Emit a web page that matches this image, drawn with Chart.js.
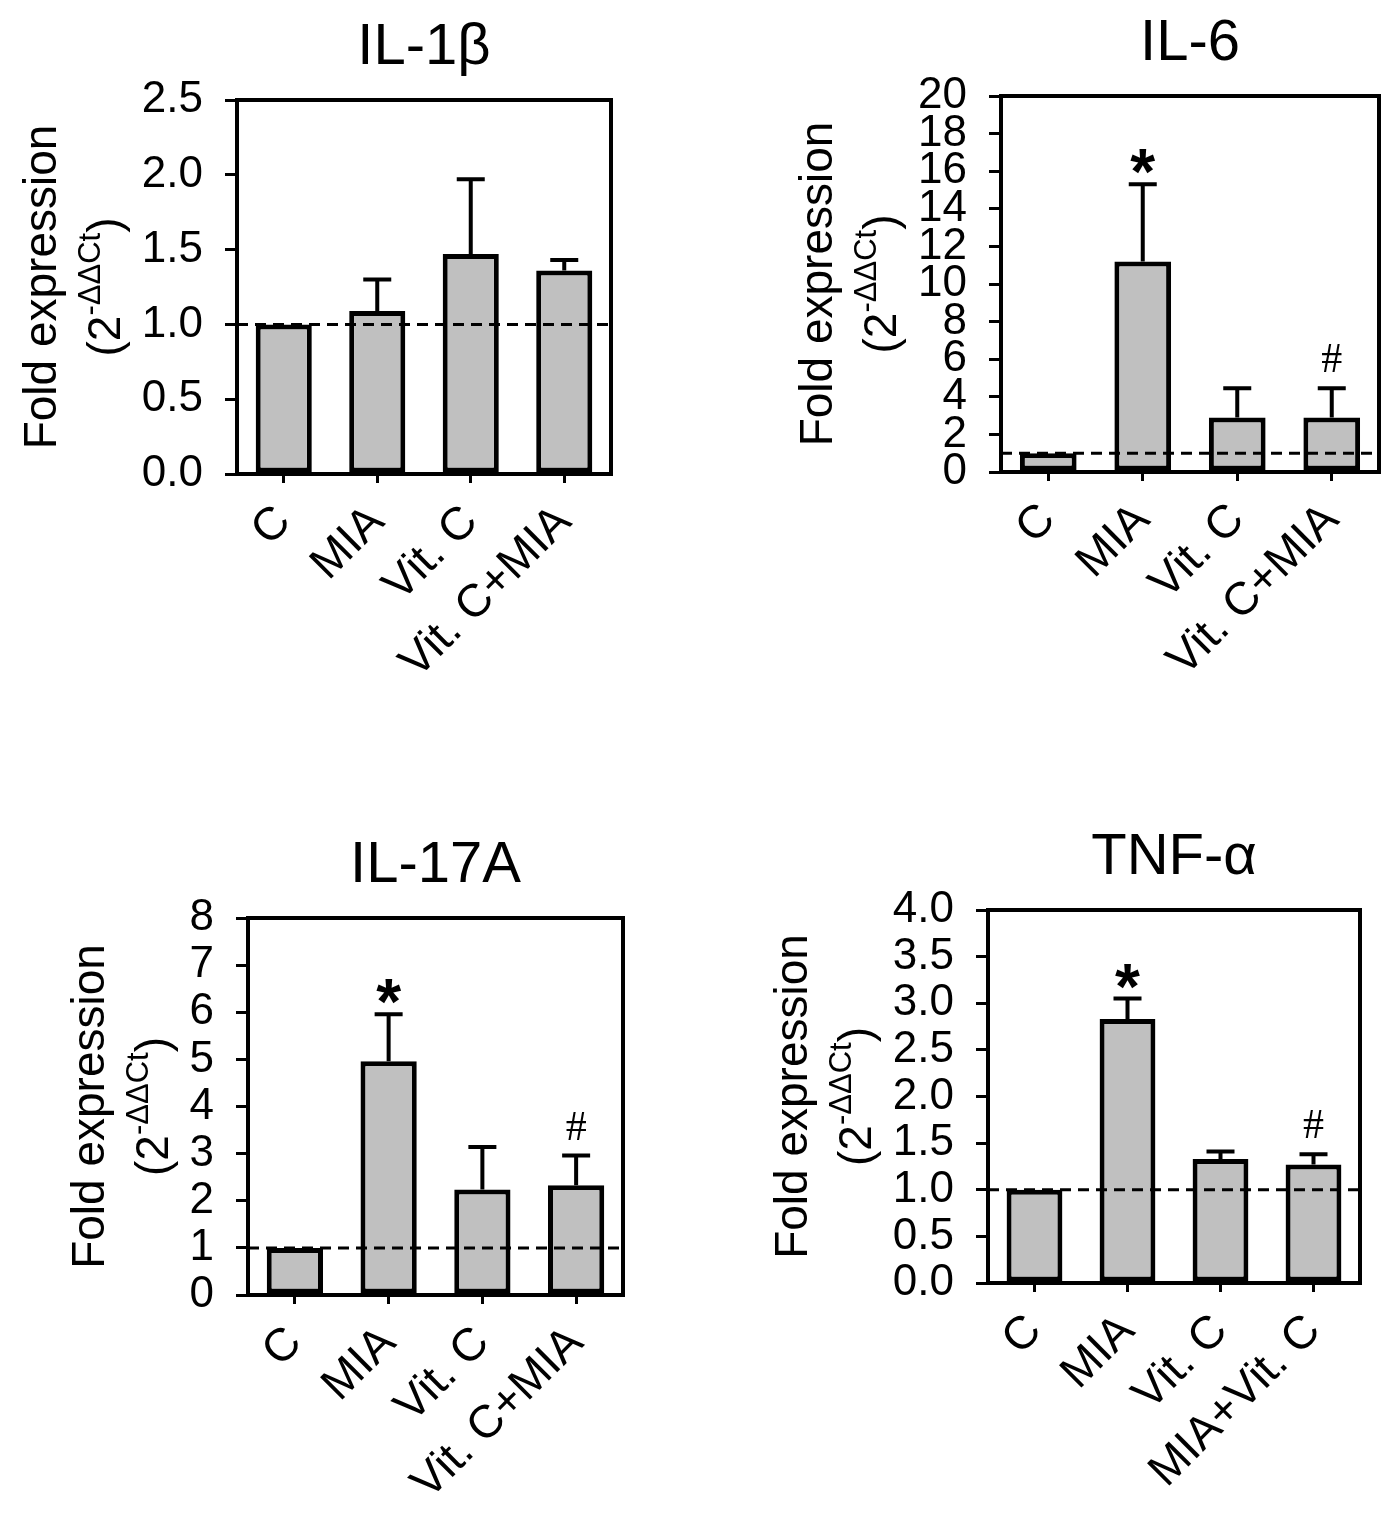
<!DOCTYPE html>
<html>
<head>
<meta charset="utf-8">
<title>Fold expression of cytokines</title>
<script src="https://cdn.jsdelivr.net/npm/chart.js@4.4.1/dist/chart.umd.min.js"></script>
<style>
  html, body { margin: 0; padding: 0; background: #fff; }
  #page { position: relative; width: 1395px; height: 1513px; overflow: hidden; }
  #page canvas { position: absolute; }
</style>
</head>
<body>
<div id="page">
  <canvas id="il1b"></canvas>
  <canvas id="il6"></canvas>
  <canvas id="il17a"></canvas>
  <canvas id="tnfa"></canvas>
</div>
<script>
// groups on the x axis
const groups = ['C', 'MIA', 'Vit. C', 'Vit. C+MIA'];
const groupsTnf = ['C', 'MIA', 'Vit. C', 'MIA+Vit. C'];

// IL-1β
const il1bMean = [1.0, 1.09, 1.47, 1.36];
const il1bSem = [0, 0.21, 0.50, 0.07];
const il1bMarks = ['', '', '', ''];
const il1bTicks = [0.0, 0.5, 1.0, 1.5, 2.0, 2.5];

// IL-6
const il6Mean = [1.0, 11.2, 2.9, 2.9];
const il6Sem = [0, 4.1, 1.55, 1.55];
const il6Marks = ['', '*', '', '#'];
const il6Ticks = [0, 2, 4, 6, 8, 10, 12, 14, 16, 18, 20];

// IL-17A
const il17aMean = [1.0, 4.96, 2.24, 2.33];
const il17aSem = [0, 1.0, 0.9, 0.63];
const il17aMarks = ['', '*', '', '#'];
const il17aTicks = [0, 1, 2, 3, 4, 5, 6, 7, 8];

// TNF-α
const tnfaMean = [1.0, 2.83, 1.33, 1.27];
const tnfaSem = [0, 0.22, 0.08, 0.11];
const tnfaMarks = ['', '*', '', '#'];
const tnfaTicks = [0.0, 0.5, 1.0, 1.5, 2.0, 2.5, 3.0, 3.5, 4.0];

const baseline = 1; // dashed reference line (control = 1)

const FONT = "'Liberation Sans', Arial, sans-serif";

// desenha barras de erro, linha tracejada, moldura e marcas
const panelDecor = {
  id: 'panelDecor',
  afterDatasetsDraw(chart, args, opts) {
    const { ctx, chartArea: a } = chart;
    const y = chart.scales.y;
    const meta = chart.getDatasetMeta(0);
    const values = chart.data.datasets[0].data;

    ctx.save();
    ctx.strokeStyle = '#000';
    ctx.fillStyle = '#000';

    // barras de erro (só para cima)
    ctx.lineWidth = 4;
    meta.data.forEach((bar, i) => {
      const sem = opts.sem[i];
      if (!sem) return;
      const top = y.getPixelForValue(values[i] + sem);
      ctx.beginPath();
      ctx.moveTo(bar.x, bar.y);
      ctx.lineTo(bar.x, top);
      ctx.moveTo(bar.x - 14, top);
      ctx.lineTo(bar.x + 14, top);
      ctx.stroke();
    });

    // linha tracejada em 1
    const yb = y.getPixelForValue(baseline);
    ctx.lineWidth = 3;
    ctx.setLineDash([11, 7]);
    ctx.beginPath();
    ctx.moveTo(a.left, yb);
    ctx.lineTo(a.right, yb);
    ctx.stroke();
    ctx.setLineDash([]);

    // moldura
    ctx.lineWidth = 4;
    ctx.strokeRect(a.left, a.top, a.right - a.left, a.bottom - a.top);

    // marcas de significância
    ctx.textAlign = 'center';
    ctx.textBaseline = 'alphabetic';
    meta.data.forEach((bar, i) => {
      const mark = opts.marks[i];
      if (!mark) return;
      const top = y.getPixelForValue(values[i] + opts.sem[i]);
      if (mark === '*') {
        ctx.font = 'bold 64px ' + FONT;
        ctx.fillText(mark, bar.x, top + 10);
      } else {
        ctx.font = "42px 'Liberation Serif', 'Times New Roman', serif";
        ctx.fillText(mark, bar.x, top - 16);
      }
    });
    ctx.restore();
  },
  afterDraw(chart, args, opts) {
    const { ctx, chartArea: a } = chart;
    const y = chart.scales.y;
    ctx.save();
    ctx.fillStyle = '#000';

    // título
    ctx.font = '58px ' + FONT;
    ctx.textAlign = 'center';
    ctx.textBaseline = 'alphabetic';
    ctx.fillText(opts.title, (a.left + a.right) / 2, a.top - 36);

    // título do eixo Y, duas linhas, girado
    ctx.font = '44px ' + FONT;
    let labelW = 0;
    y.ticks.forEach(t => {
      labelW = Math.max(labelW, ctx.measureText(opts.fmt(t.value)).width);
    });
    const line2 = a.left - 12 - 22 - labelW - 22;
    const line1 = line2 - 64;
    const cy = (a.top + a.bottom) / 2;

    ctx.save();
    ctx.translate(line1, cy);
    ctx.rotate(-Math.PI / 2);
    ctx.font = '46px ' + FONT;
    ctx.fillText('Fold expression', 0, 0);
    ctx.restore();

    ctx.save();
    ctx.translate(line2, cy);
    ctx.rotate(-Math.PI / 2);
    ctx.textAlign = 'left';
    const big = '46px ' + FONT, small = '31px ' + FONT;
    ctx.font = big;
    const w1 = ctx.measureText('(2').width;
    const w3 = ctx.measureText(')').width;
    ctx.font = small;
    const w2 = ctx.measureText('-\u0394\u0394Ct').width;
    const x0 = -(w1 + w2 + w3) / 2;
    ctx.font = big;
    ctx.fillText('(2', x0, 0);
    ctx.font = small;
    ctx.fillText('-\u0394\u0394Ct', x0 + w1, -20);
    ctx.font = big;
    ctx.fillText(')', x0 + w1 + w2, 0);
    ctx.restore();

    ctx.restore();
  }
};

function makePanel(id, pos, plot, labels, mean, sem, marks, ticks, decimals, title) {
  const canvas = document.getElementById(id);
  const W = 698, H = 757;
  canvas.width = W;
  canvas.height = H;
  canvas.style.width = W + 'px';
  canvas.style.height = H + 'px';
  canvas.style.left = pos[0] + 'px';
  canvas.style.top = pos[1] + 'px';

  const fmt = v => Number(v).toFixed(decimals);

  return new Chart(canvas, {
    type: 'bar',
    data: {
      labels,
      datasets: [{
        data: mean,
        backgroundColor: '#c0c0c0',
        borderColor: '#000',
        borderWidth: 5,
        borderSkipped: false,
        barPercentage: 0.6,
        categoryPercentage: 1.0
      }]
    },
    plugins: [panelDecor],
    options: {
      responsive: false,
      animation: false,
      devicePixelRatio: 1,
      layout: {
        padding: { left: 0, top: plot.top, right: W - plot.right, bottom: 0 }
      },
      scales: {
        x: {
          offset: true,
          border: { display: false },
          grid: {
            offset: false,
            drawOnChartArea: false,
            drawTicks: true,
            tickLength: 9,
            lineWidth: 3,
            color: '#000'
          },
          ticks: {
            autoSkip: false,
            minRotation: 45,
            maxRotation: 45,
            padding: 12,
            color: '#000',
            font: { family: FONT, size: 46 }
          },
          afterFit(s) {
            s.height = H - plot.bottom;
            s.paddingLeft = 0; s.paddingRight = 0;
          }
        },
        y: {
          min: ticks[0],
          max: ticks[ticks.length - 1],
          border: { display: false },
          grid: {
            drawOnChartArea: false,
            drawTicks: true,
            tickLength: 12,
            lineWidth: 3,
            color: '#000'
          },
          ticks: {
            autoSkip: false,
            padding: 22,
            color: '#000',
            font: { family: FONT, size: 44 },
            callback: v => fmt(v)
          },
          afterBuildTicks(s) {
            s.ticks = ticks.map(v => ({ value: v }));
          },
          afterFit(s) {
            s.width = plot.left;
            s.paddingTop = 0; s.paddingBottom = 0;
          }
        }
      },
      plugins: {
        legend: { display: false },
        tooltip: { enabled: false },
        panelDecor: { title, sem, marks, fmt }
      }
    }
  });
}

makePanel('il1b', [0, 0], { left: 237, right: 611, top: 100, bottom: 474 },
  groups, il1bMean, il1bSem, il1bMarks, il1bTicks, 1, 'IL-1\u03b2');
makePanel('il6', [697, 0], { left: 304, right: 682, top: 96, bottom: 472 },
  groups, il6Mean, il6Sem, il6Marks, il6Ticks, 0, 'IL-6');
makePanel('il17a', [0, 756], { left: 248, right: 623, top: 162, bottom: 539 },
  groups, il17aMean, il17aSem, il17aMarks, il17aTicks, 0, 'IL-17A');
makePanel('tnfa', [697, 756], { left: 291, right: 663, top: 154, bottom: 527 },
  groupsTnf, tnfaMean, tnfaSem, tnfaMarks, tnfaTicks, 1, 'TNF-\u03b1');
</script>
</body>
</html>
